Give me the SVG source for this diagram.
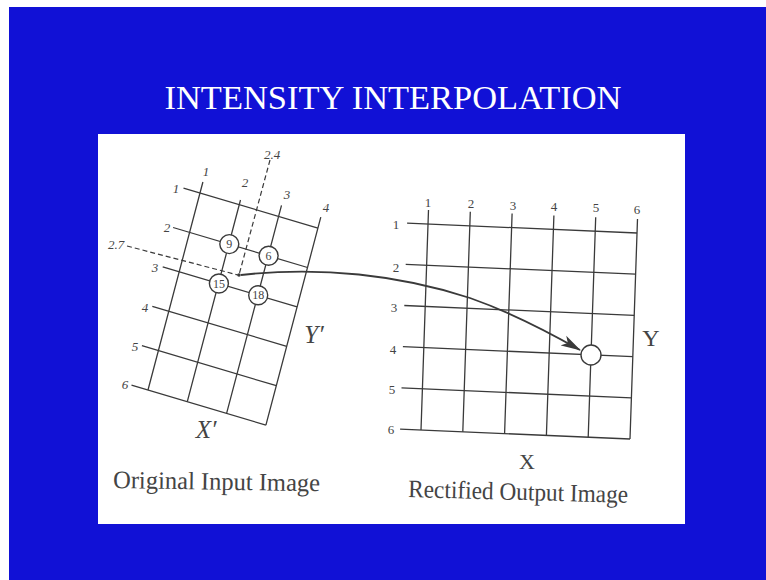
<svg xmlns="http://www.w3.org/2000/svg" width="766" height="580" viewBox="0 0 766 580">
<defs>
<style>
.bg{fill:#1111d6}
.panel{fill:#ffffff}
.title{font-family:"Liberation Serif",serif;font-size:34px;fill:#ffffff}
.ln{stroke:#3a3a3a;stroke-width:1.3;fill:none}
.dash{stroke:#3a3a3a;stroke-width:1.2;fill:none;stroke-dasharray:5 3}
.num{font-family:"Liberation Serif",serif;font-size:13px;fill:#444;text-anchor:middle}
.inum{font-family:"Liberation Serif",serif;font-size:13px;font-style:italic;fill:#444;text-anchor:middle}
.cnum{font-family:"Liberation Serif",serif;font-size:12px;fill:#444;text-anchor:middle}
.circ{fill:#ffffff;stroke:#3a3a3a;stroke-width:1.4}
.axis{font-family:"Liberation Serif",serif;font-size:24px;fill:#444;text-anchor:middle}
.iaxis{font-family:"Liberation Serif",serif;font-size:25px;font-style:italic;fill:#444;text-anchor:middle}
.cap{font-family:"Liberation Serif",serif;font-size:25px;fill:#444}
</style>
<marker id="ah" markerUnits="userSpaceOnUse" markerWidth="20" markerHeight="12" viewBox="0 0 20 12" refX="19" refY="6" orient="auto">
<path d="M0,0.5 L20,6 L0,11.5 L5,6 Z" fill="#3a3a3a"/>
</marker>
</defs>
<rect x="0" y="0" width="766" height="580" fill="#ffffff"/>
<rect class="bg" x="9" y="7" width="757" height="573"/>
<text class="title" x="393" y="109" text-anchor="middle" textLength="457" lengthAdjust="spacingAndGlyphs">INTENSITY INTERPOLATION</text>
<rect class="panel" x="98" y="134" width="587" height="390"/>

<g id="input-grid">
<path class="ln" d="M183.5,188.1L317.9,228.1M173.1,227.5L307.5,267.5M162.7,266.9L297.1,306.9M152.3,306.3L286.7,346.3M141.9,345.7L276.3,385.7M131.5,385.1L265.9,425.1"/>
<path class="ln" d="M202.9,182L148,390M240.5,200L187.3,401.7M281.5,205.4L226.6,413.4M320.8,217.1L265.9,425.1"/>
<text class="inum" x="206" y="176">1</text>
<text class="inum" x="245" y="187">2</text>
<text class="inum" x="287" y="199">3</text>
<text class="inum" x="326" y="212">4</text>
<text class="inum" x="176" y="193">1</text>
<text class="inum" x="167" y="232">2</text>
<text class="inum" x="155" y="272">3</text>
<text class="inum" x="145" y="312">4</text>
<text class="inum" x="135" y="351">5</text>
<text class="inum" x="125" y="389">6</text>
<text class="iaxis" x="314" y="343">Y′</text>
<text class="iaxis" x="206" y="438">X′</text>
</g>

<g id="sample-point">
<path class="dash" d="M270,160L239,275"/>
<path class="dash" d="M127,246L238,275"/>
<circle cx="239" cy="275" r="1.8" fill="#3a3a3a"/>
<text class="inum" x="272" y="159">2.4</text>
<text class="inum" x="116" y="249">2.7</text>
</g>

<g id="n9"><circle class="circ" cx="229.3" cy="244.1" r="9.5"/><text class="cnum" x="229.3" y="248.3">9</text></g>
<g id="n6"><circle class="circ" cx="268.6" cy="255.8" r="9.5"/><text class="cnum" x="268.6" y="260">6</text></g>
<g id="n15"><circle class="circ" cx="218.9" cy="283.5" r="9.5"/><text class="cnum" x="218.9" y="287.7" textLength="12" lengthAdjust="spacingAndGlyphs">15</text></g>
<g id="n18"><circle class="circ" cx="258.2" cy="295.2" r="9.5"/><text class="cnum" x="258.2" y="299.4" textLength="12" lengthAdjust="spacingAndGlyphs">18</text></g>

<g id="output-grid">
<path class="ln" d="M407.1,223.1L637,233M405.7,264.3L635.6,274.2M404.3,305.5L634.2,315.4M402.9,346.7L632.8,356.6M401.5,387.9L631.4,397.8M400.1,429.1L630,439"/>
<path class="ln" d="M428.5,210L421,430M470.3,211.8L462.8,431.8M512.1,213.6L504.6,433.6M553.9,215.4L546.4,435.4M595.7,217.2L588.2,437.2M637.5,219L630,439"/>
<text class="num" x="428" y="206.5">1</text>
<text class="num" x="471" y="207.5">2</text>
<text class="num" x="513" y="209.5">3</text>
<text class="num" x="554" y="210.5">4</text>
<text class="num" x="596" y="211.5">5</text>
<text class="num" x="637" y="213.5">6</text>
<text class="num" x="396" y="228.5">1</text>
<text class="num" x="396" y="271.5">2</text>
<text class="num" x="394" y="311.5">3</text>
<text class="num" x="393" y="353.5">4</text>
<text class="num" x="392" y="393.5">5</text>
<text class="num" x="391" y="433.5">6</text>
<text class="axis" x="651" y="346">Y</text>
<text class="axis" x="527" y="469" style="font-size:22px">X</text>
</g>

<g id="connectors">
<path d="M241,275 C320,266 400,275 470,298 C510,312 545,330 580,350" fill="none" stroke="#3a3a3a" stroke-width="1.8" marker-end="url(#ah)"/>
</g>

<g id="target"><circle class="circ" cx="591" cy="355" r="10"/></g>

<text class="cap" x="113" y="488" textLength="207" lengthAdjust="spacingAndGlyphs" transform="rotate(0.9 113 488)">Original  Input  Image</text>
<text class="cap" x="408" y="497" textLength="220" lengthAdjust="spacingAndGlyphs" transform="rotate(1.5 408 497)">Rectified  Output  Image</text>
</svg>
